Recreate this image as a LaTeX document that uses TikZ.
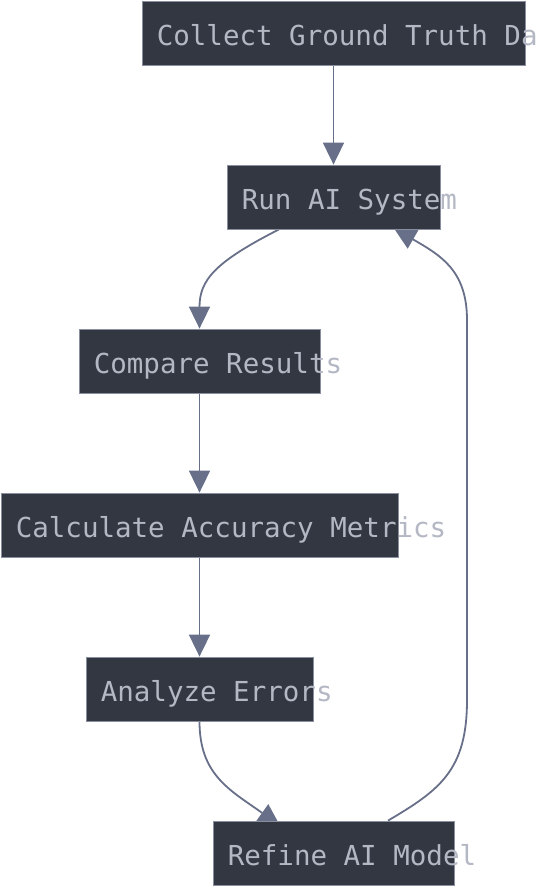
\documentclass[tikz,border=0pt]{standalone}
\usepackage{fontspec}
\setmonofont{DejaVu Sans Mono}
\usetikzlibrary{arrows.meta,backgrounds}
\definecolor{boxfill}{HTML}{333741}
\definecolor{boxline}{HTML}{8A8FA0}
\definecolor{boxtext}{HTML}{B4B8C4}
\definecolor{flowline}{HTML}{687089}

\begin{document}
\begin{tikzpicture}[x=1pt,y=-1pt,
    stage/.style={draw=boxline,line width=0.8pt,fill=boxfill,minimum height=64pt,inner sep=0pt},
    caption/.style={anchor=base west,inner sep=0pt,text=boxtext,font=\ttfamily\fontsize{27.5}{33}\selectfont},
    flow/.style={draw=flowline,line width=1.8pt,-{Triangle[length=22pt,width=21pt]}}]
    \useasboundingbox (0,0) rectangle (538,886);
    % Boxes
    \node[stage,minimum width=383pt] (collect) at (333.5,33.5) {};
    \node[stage,minimum width=213pt] (run) at (333.5,197) {};
    \node[stage,minimum width=241pt] (compare) at (199.5,361) {};
    \node[stage,minimum width=397pt] (calc) at (199.5,525) {};
    \node[stage,minimum width=227pt] (analyze) at (199.5,689) {};
    \node[stage,minimum width=241pt] (refine) at (333.5,853) {};
    % Labels
    \node[caption] (collecttxt) at ([xshift=15pt,yshift=-12pt]collect.west) {Collect Ground Truth Data};
    \node[caption] (runtxt) at ([xshift=15pt,yshift=-12pt]run.west) {Run AI System};
    \node[caption] (comparetxt) at ([xshift=15pt,yshift=-12pt]compare.west) {Compare Results};
    \node[caption] (calctxt) at ([xshift=15pt,yshift=-12pt]calc.west) {Calculate Accuracy Metrics};
    \node[caption] (analyzetxt) at ([xshift=15pt,yshift=-12pt]analyze.west) {Analyze Errors};
    \node[caption] (refinetxt) at ([xshift=15pt,yshift=-12pt]refine.west) {Refine AI Model};
    % Arrows
    \begin{scope}[on background layer]
      \draw[flow] (collect.south) -- (run.north);
      \draw[flow] ([xshift=-54.5pt]run.south) .. controls (215,262) and (199.5,280) .. (compare.north);
      \draw[flow] (compare.south) -- (calc.north);
      \draw[flow] (calc.south) -- (analyze.north);
      \draw[flow] (analyze.south) .. controls (199.5,775) and (230,790) .. ([xshift=-53.5pt,yshift=-5pt]refine.north);
      \draw[flow] ([xshift=54.5pt]refine.north) .. controls (440,790) and (467,770) .. (467,700)
        -- (467,320) .. controls (467,270) and (440,255) .. ([xshift=60.5pt,yshift=1pt]run.south);
    \end{scope}
\end{tikzpicture}
\end{document}
